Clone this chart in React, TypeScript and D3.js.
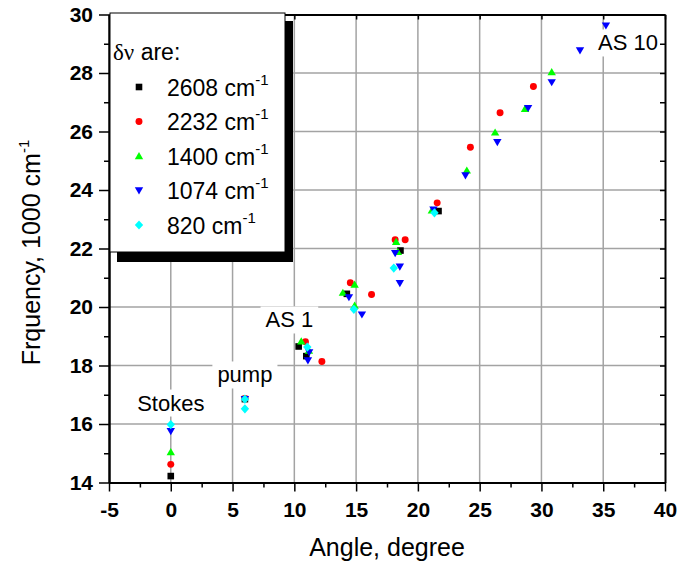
import React, { useEffect, useRef } from 'react';
import * as d3 from 'd3';

// Raman shift series, [angle in degree, frequency in 1000 cm-1]
const shift2608: [number, number][] = [
    [0, 14.22], [6, 16.85], [10.35, 18.65], [10.97, 18.32], [14.25, 20.45], [18.59, 21.93], [21.67, 23.28],
];
const shift2232: [number, number][] = [
    [0, 14.62], [6, 16.87], [10.9, 18.81], [12.23, 18.14], [14.53, 20.83], [16.25, 20.43], [18.16, 22.3],
    [18.97, 22.3], [21.56, 23.56], [24.25, 25.46], [26.65, 26.64], [29.35, 27.54],
];
const shift1400: [number, number][] = [
    [0, 15.04], [10.56, 18.83], [11.18, 18.51], [13.93, 20.49], [14.88, 20.77], [14.88, 20.05], [18.24, 22.23],
    [18.38, 21.89], [21.13, 23.31], [23.96, 24.67], [26.25, 25.97], [28.67, 26.78], [30.83, 28.03],
];
const shift1074: [number, number][] = [
    [0, 15.75], [6, 16.85], [11.1, 18.17], [11.2, 18.45], [14.42, 20.33], [15.47, 19.74], [18.16, 21.84],
    [18.54, 21.38], [18.54, 20.81], [21.26, 23.33], [23.85, 24.5], [26.43, 25.63], [28.92, 26.8],
    [30.83, 27.68], [33.12, 28.77], [35.22, 29.62],
];
const shift820: [number, number][] = [
    [0, 15.98], [6, 16.85], [6, 16.52], [11.05, 18.63], [14.82, 19.92], [18.05, 21.33], [21.34, 23.22],
];

const seriesNames = ['2608', '2232', '1400', '1074', '820'];
const seriesData = [shift2608, shift2232, shift1400, shift1074, shift820];
const seriesColors = ['#000000', '#ff0000', '#00ff00', '#0000ff', '#00ffff'];
const seriesShapes = ['square', 'circle', 'up', 'down', 'diamond'];

const xTicks = [-5, 0, 5, 10, 15, 20, 25, 30, 35, 40];
const yTicks = [14, 16, 18, 20, 22, 24, 26, 28, 30];

// text labels, anchored in data coordinates
const labels: { text: string; x: number; y: number }[] = [
    { text: 'Stokes', x: 0, y: 16.46 },
    { text: 'pump', x: 6, y: 17.42 },
    { text: 'AS 1', x: 9.6, y: 19.3 },
    { text: 'AS 10', x: 37.0, y: 28.77 },
];

const FONT = 'Arial, "Liberation Sans", sans-serif';

function markerPath(shape: string) {
    // small hand-made marker outlines centred on 0,0
    switch (shape) {
        case 'square': return 'M-3.3,-3.3h6.6v6.6h-6.6z';
        case 'circle': return d3.symbol(d3.symbolCircle, 38)() as string;
        case 'up': return 'M0,-4L4.2,3.2L-4.2,3.2z';
        case 'down': return 'M0,4L4.2,-3.2L-4.2,-3.2z';
        default: return 'M0,-4.6L4.2,0L0,4.6L-4.2,0z';
    }
}

function ScatterChart() {
    const ref = useRef<SVGSVGElement>(null);

    useEffect(() => {
        const svg = d3.select(ref.current);
        svg.selectAll('*').remove();

        const left = 109, right = 665, top = 14.5, bottom = 482.5;
        const x = d3.scaleLinear().domain([-5, 40]).range([left, right]);
        const y = d3.scaleLinear().domain([14, 30]).range([bottom, top]);

        const xMinor = d3.range(-2.5, 40, 5);
        const yMinor = d3.range(15, 30, 2);

        // grid
        const grid = svg.append('g').attr('stroke', '#a3a3a3').attr('stroke-width', 1.5);
        grid.selectAll('line.gx')
            .data(xTicks.slice(1, -1))
            .enter().append('line')
            .attr('x1', d => x(d)).attr('x2', d => x(d))
            .attr('y1', top).attr('y2', bottom);
        grid.selectAll('line.gy')
            .data(yTicks.slice(1, -1))
            .enter().append('line')
            .attr('x1', left).attr('x2', right)
            .attr('y1', d => y(d)).attr('y2', d => y(d));

        // annotation labels with white boxes (they cut the grid)
        const ann = svg.append('g');
        labels.forEach(l => {
            const g = ann.append('g');
            const rect = g.append('rect').attr('fill', 'white');
            const t = g.append('text')
                .attr('x', x(l.x)).attr('y', y(l.y))
                .attr('text-anchor', 'middle')
                .style('font-family', FONT).style('font-size', '22px')
                .text(l.text);
            const bb = (t.node() as SVGTextElement).getBBox();
            rect.attr('x', bb.x - 5).attr('y', bb.y - 1).attr('width', bb.width + 10).attr('height', bb.height + 2);
        });

        // axes
        const styleAxis = (g: d3.Selection<SVGGElement, unknown, null, undefined>) => {
            g.select('.domain').attr('stroke', '#000').attr('stroke-width', 2);
            g.selectAll('.tick line').attr('stroke', '#000').attr('stroke-width', 1.5);
            g.selectAll('.tick text')
                .attr('fill', '#000')
                .style('font-family', FONT).style('font-size', '21px').style('font-weight', 'bold');
        };

        const xAxis = svg.append('g').attr('transform', `translate(0,${bottom})`)
            .call(d3.axisBottom(x).tickValues(xTicks).tickSize(9).tickSizeOuter(0).tickPadding(11).tickFormat(d => String(d)));
        styleAxis(xAxis);
        const xAxisMinor = svg.append('g').attr('transform', `translate(0,${bottom})`)
            .call(d3.axisBottom(x).tickValues(xMinor).tickSize(5).tickSizeOuter(0).tickFormat(() => ''));
        styleAxis(xAxisMinor);

        const yAxis = svg.append('g').attr('transform', `translate(${left},0)`)
            .call(d3.axisLeft(y).tickValues(yTicks).tickSize(10).tickSizeOuter(0).tickPadding(6).tickFormat(d => String(d)));
        styleAxis(yAxis);
        const yAxisMinor = svg.append('g').attr('transform', `translate(${left},0)`)
            .call(d3.axisLeft(y).tickValues(yMinor).tickSize(5).tickSizeOuter(0).tickFormat(() => ''));
        styleAxis(yAxisMinor);

        // top and right frame, ticks inward
        const xTop = svg.append('g').attr('transform', `translate(0,${top})`)
            .call(d3.axisTop(x).tickValues(xTicks).tickSize(-5).tickSizeOuter(0).tickFormat(() => ''));
        styleAxis(xTop);
        const yRight = svg.append('g').attr('transform', `translate(${right},0)`)
            .call(d3.axisRight(y).tickValues([...yTicks, ...yMinor]).tickSize(-5).tickSizeOuter(0).tickFormat(() => ''));
        styleAxis(yRight);

        // data points
        seriesData.forEach((pts, i) => {
            svg.append('g').selectAll('path')
                .data(pts)
                .enter().append('path')
                .attr('transform', d => `translate(${x(d[0])},${y(d[1])})`)
                .attr('d', markerPath(seriesShapes[i]))
                .attr('fill', seriesColors[i]);
        });

        // axis titles
        svg.append('text')
            .attr('x', (left + right) / 2).attr('y', 556)
            .attr('text-anchor', 'middle')
            .style('font-family', FONT).style('font-size', '25px')
            .text('Angle, degree');

        const yt = svg.append('text')
            .attr('transform', `translate(40,${(top + bottom) / 2 + 4}) rotate(-90)`)
            .attr('text-anchor', 'middle')
            .style('font-family', FONT).style('font-size', '25px');
        yt.append('tspan').text('Frquency, 1000 cm');
        yt.append('tspan').attr('dy', -11).style('font-size', '15px').text('-1');

        // legend with drop shadow
        const lg = svg.append('g');
        lg.append('rect').attr('x', 117).attr('y', 21).attr('width', 176).attr('height', 241).attr('fill', '#000');
        lg.append('rect').attr('x', 110).attr('y', 13).attr('width', 175).attr('height', 239)
            .attr('fill', 'white').attr('stroke', '#000').attr('stroke-width', 1);
        const head = lg.append('text')
            .attr('x', 113).attr('y', 60)
            .style('font-family', FONT).style('font-size', '23px');
        head.append('tspan').style('font-family', '"Liberation Serif", "DejaVu Serif", serif').text('\u03b4\u03bd');
        head.append('tspan').text(' are:');
        seriesNames.forEach((name, i) => {
            const cy = 87 + i * 34.5;
            lg.append('path')
                .attr('transform', `translate(139,${cy})`)
                .attr('d', markerPath(seriesShapes[i]))
                .attr('fill', seriesColors[i]);
            const t = lg.append('text')
                .attr('x', 167).attr('y', cy + 8.5)
                .style('font-family', FONT).style('font-size', '23px');
            t.append('tspan').text(`${name} cm`);
            t.append('tspan').attr('dy', -11).style('font-size', '15px').text('-1');
        });
    }, []);

    return <svg ref={ref} width={678} height={570} style={{ position: 'absolute', left: 0, top: 0 }}></svg>;
}

export default function App() {
    return <ScatterChart />;
}
